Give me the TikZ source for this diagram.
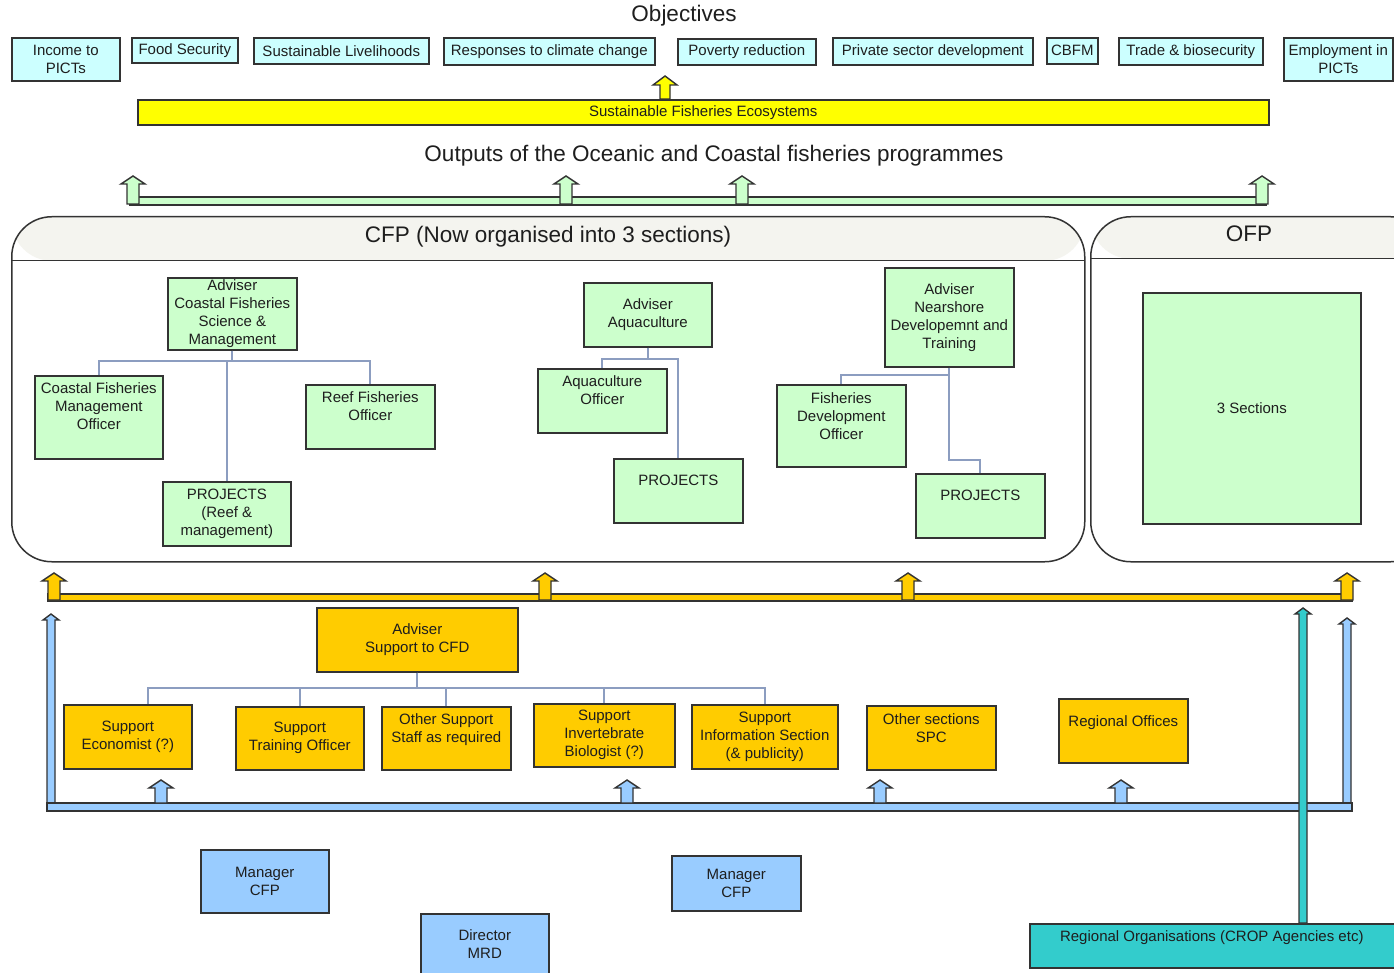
\documentclass[tikz,border=0pt]{standalone}
\usepackage{fontspec}
\setmainfont{Liberation Sans}
\usetikzlibrary{positioning}

\definecolor{ink}{HTML}{1E1E1E}
\definecolor{edge}{HTML}{333333}
\definecolor{objfill}{HTML}{CCFFFF}
\definecolor{sfefill}{HTML}{FFFF00}
\definecolor{grnfill}{HTML}{CCFFCC}
\definecolor{orgfill}{HTML}{FFCC00}
\definecolor{blufill}{HTML}{99CCFF}
\definecolor{tealfill}{HTML}{33CCCC}
\definecolor{connc}{HTML}{8C9DC0}
\definecolor{hdr}{HTML}{F4F4EF}

\tikzset{
	box/.style={draw=edge, line width=1.6pt, inner sep=0pt, align=center, text=ink, font=\fontsize{15}{18}\selectfont},
	objbox/.style={box, fill=objfill},
	sfebox/.style={box, fill=sfefill},
	grnbox/.style={box, fill=grnfill},
	orgbox/.style={box, fill=orgfill},
	blubox/.style={box, fill=blufill},
	tealbox/.style={box, fill=tealfill},
	sz/.style 2 args={minimum width=#1, minimum height=#2, anchor=north west},
	title/.style={inner sep=0pt, text=ink, font=\fontsize{22.5}{26}\selectfont},
	panel/.style={draw=edge, line width=1.5pt, rounded corners=40pt, fill=white, anchor=north west, inner sep=0pt},
	conn/.style={draw=connc, line width=2pt},
	bar/.style={draw=edge, line width=1.4pt},
	blk/.style={draw=edge, line width=1.4pt, line join=miter},
}

\newcommand{\toptxt}[4]{\parbox[c][#2pt][t]{#1pt}{\centering\vspace*{#3pt}#4\par}}
\newcommand{\fatarrow}[7]{\filldraw[blk, #1] (#2-#5,#4) -- (#2-#5,#3+#7) -- (#2-#6,#3+#7) -- (#2,#3) -- (#2+#6,#3+#7) -- (#2+#5,#3+#7) -- (#2+#5,#4) -- cycle;}

\begin{document}
\begin{tikzpicture}[x=1pt, y=-1pt]
	\useasboundingbox (0,0) rectangle (1394,973);
	\clip (0,0) rectangle (1394,973);
	\fill[white] (0,0) rectangle (1394,973);

	\node[title] (objt) at (684,16) {Objectives};
	\node[objbox, sz={108}{43}] (inc) at (11,37) {Income to\\PICTs};
	\node[objbox, sz={106}{25}] (food) at (131,37) {Food Security};
	\node[objbox, sz={175}{26}] (liv) at (253,37) {Sustainable Livelihoods};
	\node[objbox, sz={211}{27}] (clim) at (443,37) {Responses to climate change};
	\node[objbox, sz={138}{26}] (pov) at (677,38) {Poverty reduction};
	\node[objbox, sz={200}{27}] (priv) at (832,37) {Private sector development};
	\node[objbox, sz={51}{26}] (cbfm) at (1046,37) {CBFM};
	\node[objbox, sz={144}{27}] (trade) at (1118,37) {Trade \& biosecurity};
	\node[objbox, sz={109}{43}] (empl) at (1283,37) {Employment in\\PICTs};

	\node[sfebox, sz={1131}{25}] (sfe) at (137,99) {Sustainable Fisheries Ecosystems};
	\fatarrow{fill=sfefill}{665}{76}{99}{5}{12}{9}

	\node[title] (outt) at (714,156) {Outputs of the Oceanic and Coastal fisheries programmes};
	\filldraw[bar, fill=grnfill] (130,197) rectangle (1266,205);
	\foreach \xa in {133,566,742,1262}{
		\fatarrow{fill=grnfill}{\xa}{176}{204}{6}{12}{8}
	}

	\node[panel, minimum width=1073, minimum height=345,
		path picture={\fill[hdr] (path picture bounding box.north west) rectangle ([yshift=-44pt]path picture bounding box.north east);
		\draw[edge, line width=1.5pt] ([yshift=-44pt]path picture bounding box.north west) -- ([yshift=-44pt]path picture bounding box.north east);}] (cfp) at (11,216) {};
	\node[panel, minimum width=340, minimum height=345,
		path picture={\fill[hdr] (path picture bounding box.north west) rectangle ([yshift=-42pt]path picture bounding box.north east);
		\draw[edge, line width=1.5pt] ([yshift=-42pt]path picture bounding box.north west) -- ([yshift=-42pt]path picture bounding box.north east);}] (ofp) at (1090,216) {};
	\node[title] (cfpt) at (548,237) {CFP (Now organised into 3 sections)};
	\node[title] (ofpt) at (1249,234) {OFP};

	\node[grnbox, sz={129}{72}] (advcf) at (167,277) {Adviser\\Coastal Fisheries\\Science \&\\Management};
	\node[grnbox, anchor=north west] (cfmo) at (34,375) {\toptxt{128}{83}{6.5}{Coastal Fisheries\\Management\\Officer}};
	\node[grnbox, anchor=north west] (reef) at (305,384) {\toptxt{129}{64}{6.5}{Reef Fisheries\\Officer}};
	\node[grnbox, sz={128}{64}] (projreef) at (162,481) {PROJECTS\\(Reef \&\\management)};
	\node[grnbox, sz={128}{64}] (advaq) at (583,282) {Adviser\\Aquaculture};
	\node[grnbox, anchor=north west] (aqoff) at (537,368) {\toptxt{129}{64}{6.5}{Aquaculture\\Officer}};
	\node[grnbox, anchor=north west] (projaq) at (613,458) {\toptxt{129}{64}{16}{PROJECTS}};
	\node[grnbox, sz={129}{99}] (advns) at (884,267) {Adviser\\Nearshore\\Developemnt and\\Training};
	\node[grnbox, anchor=north west] (fdo) at (776,384) {\toptxt{129}{82}{7.5}{Fisheries\\Development\\Officer}};
	\node[grnbox, anchor=north west] (projns) at (915,473) {\toptxt{129}{64}{16}{PROJECTS}};
	\node[grnbox, sz={218}{231}] (ofpsec) at (1142,292) {3 Sections};

	\draw[conn] (advcf.south) -- ++(0,10) -| (cfmo.north);
	\draw[conn] (advcf.south) -- ++(0,10) -| (reef.north);
	\draw[conn] (advcf.south) -- ++(0,10) -| (projreef.north);
	\draw[conn] (advaq.south) -- ++(0,11) -| (aqoff.north);
	\draw[conn] (advaq.south) -- ++(0,11) -| (projaq.north);
	\draw[conn] (advns.south) -- ++(0,7) -| (fdo.north);
	\draw[conn] (advns.south) -- ++(0,92) -| (projns.north);

	\fatarrow{fill=blufill}{51}{614}{809}{4}{8}{6}
	\fatarrow{fill=blufill}{1347}{618}{809}{4}{8}{6}
	\filldraw[bar, fill=orgfill] (48,594) rectangle (1352,601);
	\foreach \xa in {54,545,908,1347}{
		\fatarrow{fill=orgfill}{\xa}{573}{600}{6}{12}{8}
	}
	\filldraw[bar, fill=blufill] (47,803) rectangle (1352,811);
	\foreach \xa in {161,627,880,1121}{
		\fatarrow{fill=blufill}{\xa}{780}{803}{6}{12}{8}
	}

	\node[orgbox, sz={201}{64}] (advsup) at (316,607) {Adviser\\Support to CFD};
	\node[orgbox, sz={128}{64}] (econ) at (63,704) {Support\\Economist (?)};
	\node[orgbox, sz={128}{63}] (train) at (235,706) {Support\\Training Officer};
	\node[orgbox, anchor=north west] (othsup) at (381,706) {\toptxt{129}{63}{6.5}{Other Support\\Staff as required}};
	\node[orgbox, sz={141}{63}] (invbio) at (533,703) {Support\\Invertebrate\\Biologist (?)};
	\node[orgbox, sz={146}{64}] (infosec) at (691,704) {Support\\Information Section\\(\& publicity)};
	\node[orgbox, anchor=north west] (othsec) at (866,705) {\toptxt{129}{64}{7.5}{Other sections\\SPC}};
	\node[orgbox, anchor=north west] (regoff) at (1058,698) {\toptxt{129}{64}{16.5}{Regional Offices}};

	\draw[conn] (advsup.south) -- ++(0,15) -| ([xshift=20pt]econ.north);
	\draw[conn] (advsup.south) -- ++(0,15) -| (train.north);
	\draw[conn] (advsup.south) -- ++(0,15) -| (othsup.north);
	\draw[conn] (advsup.south) -- ++(0,15) -| (invbio.north);
	\draw[conn] (advsup.south) -- ++(0,15) -| (infosec.north);

	\node[blubox, sz={128}{63}] (mgr1) at (200,849) {Manager\\CFP};
	\node[blubox, sz={128}{60}] (dir) at (420,913) {Director\\MRD};
	\node[blubox, sz={129}{55}] (mgr2) at (671,855) {Manager\\CFP};
	\node[tealbox, anchor=north west] (crop) at (1029,923) {\toptxt{380}{44}{6.5}{\hspace*{-8pt}Regional Organisations (CROP Agencies etc)\hspace*{8pt}}};

	\fatarrow{fill=tealfill}{1303}{608}{923}{4}{8}{6}
\end{tikzpicture}
\end{document}
